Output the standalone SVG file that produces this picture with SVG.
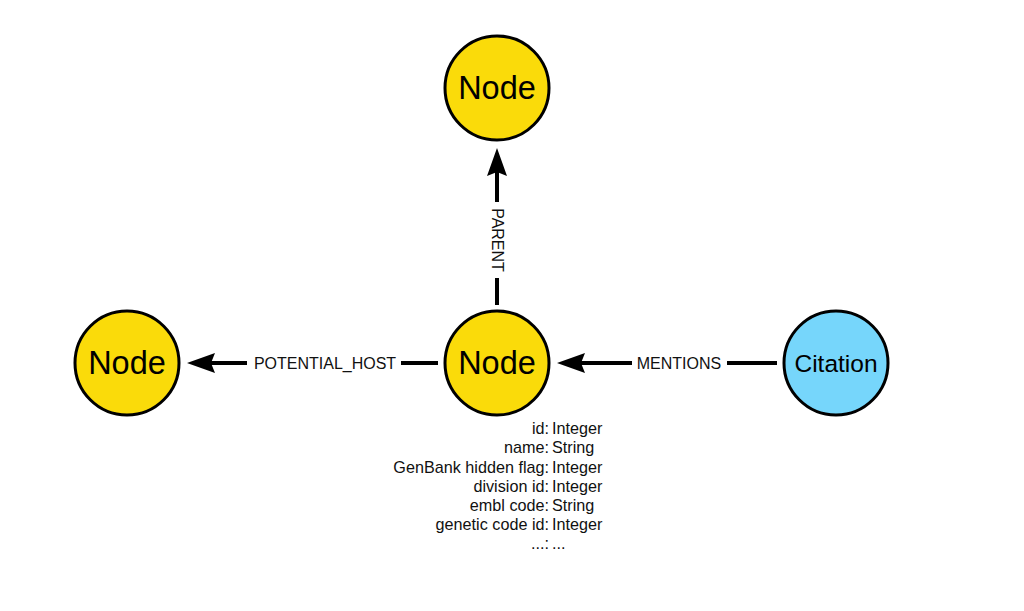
<svg xmlns="http://www.w3.org/2000/svg" width="1024" height="611" viewBox="0 0 1024 611">
<style>
.node{stroke:#000;stroke-width:3}
.yellow{fill:#FADB0A}
.blue{fill:#76D6FB}
.nlabel{font-family:"Liberation Sans",Arial,sans-serif;font-size:32.5px;fill:#000;text-anchor:middle}
.edge{stroke:#000;stroke-width:4;fill:none}
.elabel{font-family:"Liberation Sans",Arial,sans-serif;font-size:16px;fill:#111;text-anchor:middle}
.pk{font-family:"Liberation Sans",Arial,sans-serif;font-size:16.2px;fill:#111;text-anchor:end}
.pv{font-family:"Liberation Sans",Arial,sans-serif;font-size:16.2px;fill:#111;text-anchor:start}
</style>
<rect width="1024" height="611" fill="#fff"/>
<g id="connectors">
  <g id="edge-parent">
    <line class="edge" x1="497" y1="305" x2="497" y2="278"/>
    <line class="edge" x1="497" y1="202" x2="497" y2="172"/>
    <polygon points="497,148 487,176 497,172 507,176" fill="#000"/>
    <text class="elabel" transform="translate(491.5,240) rotate(90)">PARENT</text>
  </g>
  <g id="edge-potential-host">
    <line class="edge" x1="438" y1="363" x2="401" y2="363"/>
    <line class="edge" x1="247" y1="363" x2="210" y2="363"/>
    <polygon points="187,363 215,353 211,363 215,373" fill="#000"/>
    <text class="elabel" x="325" y="368.5">POTENTIAL_HOST</text>
  </g>
  <g id="edge-mentions">
    <line class="edge" x1="777" y1="363" x2="727" y2="363"/>
    <line class="edge" x1="632" y1="363" x2="580" y2="363"/>
    <polygon points="557,363 585,353 581,363 585,373" fill="#000"/>
    <text class="elabel" x="679" y="368.5">MENTIONS</text>
  </g>
</g>
<g id="node-top">
  <circle class="node yellow" cx="497" cy="88" r="52"/>
  <text class="nlabel" x="497" y="99">Node</text>
</g>
<g id="node-left">
  <circle class="node yellow" cx="127" cy="363" r="52"/>
  <text class="nlabel" x="127" y="374">Node</text>
</g>
<g id="node-center">
  <circle class="node yellow" cx="497" cy="363" r="52"/>
  <text class="nlabel" x="497" y="374">Node</text>
</g>
<g id="node-citation">
  <circle class="node blue" cx="836" cy="363" r="52"/>
  <text class="nlabel" x="836" y="372" style="font-size:24.5px">Citation</text>
</g>
<g id="node-center-properties">
  <text class="pk" x="549" y="434">id:</text><text class="pv" x="552" y="434">Integer</text>
  <text class="pk" x="549" y="453">name:</text><text class="pv" x="552" y="453">String</text>
  <text class="pk" x="549" y="473">GenBank hidden flag:</text><text class="pv" x="552" y="473">Integer</text>
  <text class="pk" x="549" y="492">division id:</text><text class="pv" x="552" y="492">Integer</text>
  <text class="pk" x="549" y="511">embl code:</text><text class="pv" x="552" y="511">String</text>
  <text class="pk" x="549" y="530">genetic code id:</text><text class="pv" x="552" y="530">Integer</text>
  <text class="pk" x="549" y="549">...:</text><text class="pv" x="552" y="549">...</text>
</g>
</svg>
